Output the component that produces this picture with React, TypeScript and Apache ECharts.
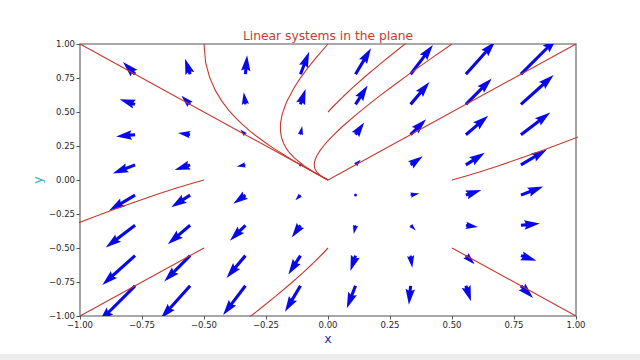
import React, { useEffect, useRef } from "react";
import * as echarts from "echarts";

// Quiver grid (tail positions)
const GRID_X = [-0.778, -0.556, -0.333, -0.111, 0.111, 0.333, 0.556, 0.778];
const GRID_Y = [-0.778, -0.556, -0.333, -0.111, 0.111, 0.333, 0.556, 0.778];

// Vector components, one row per GRID_Y value (bottom to top), one column per GRID_X value
const U_ROWS = [
  [-2.33, -1.89, -1.44, -1.0, -0.56, -0.11, 0.33, 0.78],
  [-2.11, -1.67, -1.22, -0.78, -0.33, 0.11, 0.56, 1.0],
  [-1.89, -1.44, -1.0, -0.56, -0.11, 0.33, 0.78, 1.22],
  [-1.67, -1.22, -0.78, -0.33, 0.11, 0.56, 1.0, 1.44],
  [-1.44, -1.0, -0.56, -0.11, 0.33, 0.78, 1.22, 1.67],
  [-1.22, -0.78, -0.33, 0.11, 0.56, 1.0, 1.44, 1.89],
  [-1.0, -0.56, -0.11, 0.33, 0.78, 1.22, 1.67, 2.11],
  [-0.78, -0.33, 0.11, 0.56, 1.0, 1.44, 1.89, 2.33],
];
const V_ROWS = [
  [-2.33, -2.11, -1.89, -1.67, -1.44, -1.22, -1.0, -0.78],
  [-1.89, -1.67, -1.44, -1.22, -1.0, -0.78, -0.56, -0.33],
  [-1.44, -1.22, -1.0, -0.78, -0.56, -0.33, -0.11, 0.11],
  [-1.0, -0.78, -0.56, -0.33, -0.11, 0.11, 0.33, 0.56],
  [-0.56, -0.33, -0.11, 0.11, 0.33, 0.56, 0.78, 1.0],
  [-0.11, 0.11, 0.33, 0.56, 0.78, 1.0, 1.22, 1.44],
  [0.33, 0.56, 0.78, 1.0, 1.22, 1.44, 1.67, 1.89],
  [0.78, 1.0, 1.22, 1.44, 1.67, 1.89, 2.11, 2.33],
];

// Trajectories (x, y)
const TRAJ_A = [[0, 0], [-1, 1]];
const TRAJ_E = [[0, 0], [1, 1]];
const TRAJ_J = [[-0.5, -0.5], [-1, -1]];
const TRAJ_K = [[0.5, -0.5], [1, -1]];
const TRAJ_B = [
  [0, 0], [-0.005, 0.005], [-0.0373, 0.0374], [-0.0828, 0.0834], [-0.1493, 0.1535],
  [-0.1812, 0.1887], [-0.2191, 0.2327], [-0.2635, 0.2883], [-0.2881, 0.3217],
  [-0.3143, 0.3597], [-0.3418, 0.403], [-0.3703, 0.4529], [-0.3991, 0.5107],
  [-0.4274, 0.578], [-0.454, 0.6572], [-0.4768, 0.7512], [-0.4934, 0.8638], [-0.5, 1],
];
const TRAJ_C = [
  [0, 0], [-0.0249, 0.0249], [-0.0547, 0.0561], [-0.0969, 0.1051], [-0.1369, 0.1643],
  [-0.1591, 0.2089], [-0.1697, 0.2369], [-0.1793, 0.27], [-0.187, 0.3096],
  [-0.1917, 0.3571], [-0.1917, 0.4149], [-0.1846, 0.4858], [-0.1671, 0.5737],
  [-0.135, 0.6838], [-0.1116, 0.7492], [-0.082, 0.8228], [-0.0452, 0.906], [0, 1],
];
const TRAJ_D = [
  [0, 0], [-0.0076, 0.0076], [-0.0183, 0.0189], [-0.0319, 0.0357], [-0.0443, 0.0567],
  [-0.0529, 0.0833], [-0.0555, 0.1109], [-0.0546, 0.1294], [-0.0513, 0.1521],
  [-0.0443, 0.1803], [-0.0323, 0.2161], [-0.0132, 0.2612], [0.0157, 0.3189],
  [0.0583, 0.3935], [0.1198, 0.4902], [0.1596, 0.549], [0.2069, 0.6163],
  [0.263, 0.6934], [0.3294, 0.7818], [0.4077, 0.8833], [0.5, 1],
];
const TRAJ_F = [
  [0, 0.5], [0.0277, 0.5533], [0.0612, 0.6138], [0.1016, 0.6826], [0.1501, 0.7609],
  [0.2083, 0.8503], [0.2774, 0.9524], [0.3168, 1.0088],
];
const TRAJ_G = [
  [0.5, 0], [0.5533, 0.0277], [0.6138, 0.0612], [0.6826, 0.1016], [0.7609, 0.1501],
  [0.8503, 0.2083], [0.9524, 0.2774], [1.0088, 0.3168],
];
const TRAJ_H = [
  [-0.5, 0], [-0.5533, -0.0277], [-0.6138, -0.0612], [-0.6826, -0.1016], [-0.7609, -0.1501],
  [-0.8503, -0.2083], [-0.9524, -0.2774], [-1.0088, -0.3168],
];
const TRAJ_I = [
  [0, -0.5], [-0.0277, -0.5533], [-0.0612, -0.6138], [-0.1016, -0.6826], [-0.1501, -0.7609],
  [-0.2083, -0.8503], [-0.2774, -0.9524], [-0.3168, -1.0088],
];
const TRAJECTORIES = [TRAJ_A, TRAJ_B, TRAJ_C, TRAJ_D, TRAJ_E, TRAJ_F, TRAJ_G, TRAJ_H, TRAJ_I, TRAJ_J, TRAJ_K];

const AXIS_MIN = -1;
const AXIS_MAX = 1;
const TICK_STEP = 0.25;

const TITLE = "Linear systems in the plane";
const X_LABEL = "x";
const Y_LABEL = "y";

const ARROW_COLOR = "#0808e8";
const LINE_COLOR = "#c8372d";
const FONT = "'DejaVu Sans', sans-serif";

const fmt = (v: number) => (v < 0 ? "\u2212" : "") + Math.abs(v).toFixed(2);

export default function App() {
  const ref = useRef<HTMLDivElement>(null);

  useEffect(() => {
    if (!ref.current) return;
    const chart = echarts.init(ref.current, undefined, { renderer: "svg" });

    const quiverData: number[][] = [];
    GRID_Y.forEach((y, r) => {
      GRID_X.forEach((x, c) => {
        quiverData.push([x, y, U_ROWS[r][c], V_ROWS[r][c]]);
      });
    });

    const renderArrow = (params: any, api: any) => {
      const x = api.value(0);
      const y = api.value(1);
      const u = api.value(2);
      const v = api.value(3);
      const p = api.coord([x, y]);
      const cs = params.coordSys;
      const w = cs.width * 0.0063; // shaft width in px
      const k = cs.width / 32.0; // px per unit magnitude
      const mag = Math.hypot(u, v);
      const L = (mag * k) / w; // length in shaft widths
      const dx = u / mag;
      const dy = -v / mag;
      const nx = -dy;
      const ny = dx;
      let pts: number[][];
      if (L < 1) {
        pts = [];
        for (let i = 0; i < 6; i++) {
          const th = (i * Math.PI) / 3;
          pts.push([Math.cos(th) * 0.5, Math.sin(th) * 0.5]);
        }
      } else if (L < 5) {
        const s = L / 5;
        pts = [[0, 0.5], [0.5, 0.5], [0, 1.5], [5, 0], [0, -1.5], [0.5, -0.5], [0, -0.5]].map(
          ([a, b]) => [a * s, b * s]
        );
      } else {
        pts = [[0, 0.5], [L - 4.5, 0.5], [L - 5, 1.5], [L, 0], [L - 5, -1.5], [L - 4.5, -0.5], [0, -0.5]];
      }
      const points = pts.map(([a, b]) => [p[0] + w * (a * dx + b * nx), p[1] + w * (a * dy + b * ny)]);
      return {
        type: "polygon",
        shape: { points },
        style: { fill: ARROW_COLOR, stroke: null },
      };
    };

    const axisCommon = {
      type: "value",
      min: AXIS_MIN,
      max: AXIS_MAX,
      interval: TICK_STEP,
      splitLine: { show: false },
      axisLine: { show: false, onZero: false },
      axisTick: { show: true, length: 3.5, lineStyle: { color: "#555", width: 1 } },
    };

    const option: any = {
      animation: false,
      backgroundColor: "#ffffff",
      grid: {
        left: 80,
        top: 44,
        width: 496,
        height: 272,
        show: true,
        borderColor: "#8c8c8c",
        borderWidth: 1.6,
        backgroundColor: "transparent",
      },
      xAxis: {
        ...axisCommon,
        position: "bottom",
        axisLabel: {
          formatter: fmt,
          color: "#262626",
          fontSize: 8.5,
          fontFamily: FONT,
          margin: 4.5,
          showMinLabel: true,
          showMaxLabel: true,
        },
      },
      yAxis: {
        ...axisCommon,
        position: "left",
        axisLabel: {
          formatter: fmt,
          color: "#262626",
          fontSize: 8.5,
          fontFamily: FONT,
          margin: 5,
          showMinLabel: true,
          showMaxLabel: true,
        },
      },
      graphic: [
        {
          type: "text",
          x: 328,
          y: 35.5,
          style: {
            text: TITLE,
            fill: "#cc3a2c",
            fontSize: 12.3,
            fontFamily: FONT,
            textAlign: "center",
            textVerticalAlign: "middle",
          },
        },
        {
          type: "text",
          x: 328,
          y: 338.5,
          style: {
            text: X_LABEL,
            fill: "#2a2aa6",
            fontSize: 12.5,
            fontFamily: FONT,
            textAlign: "center",
            textVerticalAlign: "middle",
          },
        },
        {
          type: "text",
          x: 37,
          y: 180,
          rotation: Math.PI / 2,
          style: {
            text: Y_LABEL,
            fill: "#22b0b0",
            fontSize: 12.5,
            fontFamily: FONT,
            textAlign: "center",
            textVerticalAlign: "middle",
          },
        },
        {
          type: "rect",
          shape: { x: 0, y: 354, width: 640, height: 6 },
          style: { fill: "#ededed" },
        },
      ],
      series: [
        {
          type: "custom",
          coordinateSystem: "cartesian2d",
          renderItem: renderArrow,
          data: quiverData,
          encode: { x: 0, y: 1 },
          clip: true,
          z: 2,
        },
        ...TRAJECTORIES.map((t) => ({
          type: "line",
          data: t,
          showSymbol: false,
          symbol: "none",
          clip: true,
          z: 3,
          lineStyle: { color: LINE_COLOR, width: 1.1 },
          silent: true,
        })),
      ],
    };

    chart.setOption(option);
    return () => chart.dispose();
  }, []);

  return (
    <div
      ref={ref}
      style={{ position: "fixed", left: 0, top: 0, width: 640, height: 360, background: "#fff" }}
    />
  );
}
